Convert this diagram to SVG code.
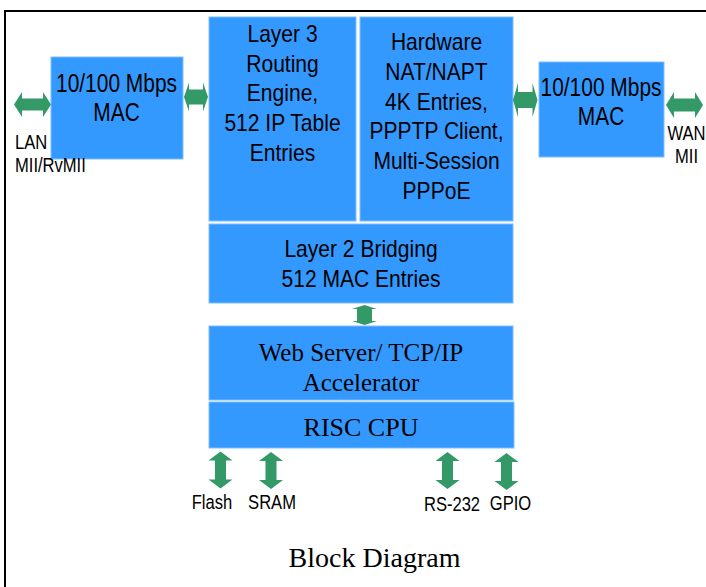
<svg xmlns="http://www.w3.org/2000/svg" xmlns:xlink="http://www.w3.org/1999/xlink" width="706" height="587" viewBox="0 0 706 587">
  <style>
    .box { fill: #3399ff; stroke: #7fbfff; stroke-width: 1; }
    .arrow { fill: #339966; }
    .sans { font-family: "Liberation Sans", Arial, sans-serif; fill: #000; text-anchor: middle; }
    .mac { font-size: 26px; }
    .lyr { font-size: 23px; }
    .lbl { font-size: 19.5px; }
    .serif { font-family: "Liberation Serif", "Times New Roman", serif; fill: #000; text-anchor: middle; }
  </style>
  <defs>
    <path id="varrow" d="M0 -18.5 L12 -9.5 L5.5 -9.5 L5.5 9.5 L12 9.5 L0 18.5 L-12 9.5 L-5.5 9.5 L-5.5 -9.5 L-12 -9.5 Z"/>
  </defs>
  <rect x="0" y="0" width="706" height="587" fill="#fff"/>
  <rect x="5" y="11" width="800" height="700" fill="none" stroke="#000" stroke-width="2"/>

  <g id="mac-lan">
    <rect class="box" x="51" y="57" width="132" height="102"/>
    <g transform="translate(116.5 0) scale(0.805 1)">
      <text class="sans mac" x="0" y="92">10/100 Mbps</text>
      <text class="sans mac" x="0" y="121">MAC</text>
    </g>
  </g>

  <g id="layer3">
    <rect class="box" x="209" y="17" width="147" height="204"/>
    <g transform="translate(282.5 0) scale(0.915 1)">
      <text class="sans lyr" x="0" y="42">Layer 3</text>
      <text class="sans lyr" x="0" y="71.7">Routing</text>
      <text class="sans lyr" x="0" y="101.4">Engine,</text>
      <text class="sans lyr" x="0" y="131.1">512 IP Table</text>
      <text class="sans lyr" x="0" y="160.8">Entries</text>
    </g>
  </g>

  <g id="nat">
    <rect class="box" x="360" y="17" width="153" height="204"/>
    <g transform="translate(436.5 0) scale(0.915 1)">
      <text class="sans lyr" x="0" y="50">Hardware</text>
      <text class="sans lyr" x="0" y="79.8">NAT/NAPT</text>
      <text class="sans lyr" x="0" y="109.6">4K Entries,</text>
      <text class="sans lyr" x="0" y="139.4">PPPTP Client,</text>
      <text class="sans lyr" x="0" y="169.2">Multi-Session</text>
      <text class="sans lyr" x="0" y="199">PPPoE</text>
    </g>
  </g>

  <g id="mac-wan">
    <rect class="box" x="539" y="62" width="125" height="95"/>
    <g transform="translate(601 0) scale(0.805 1)">
      <text class="sans mac" x="0" y="96">10/100 Mbps</text>
      <text class="sans mac" x="0" y="125">MAC</text>
    </g>
  </g>

  <g id="layer2">
    <rect class="box" x="209" y="224" width="304" height="79"/>
    <g transform="translate(361 0) scale(0.915 1)">
      <text class="sans lyr" x="0" y="257.3">Layer 2 Bridging</text>
      <text class="sans lyr" x="0" y="287.3">512 MAC Entries</text>
    </g>
  </g>

  <g id="webserver">
    <rect class="box" x="209" y="326" width="304" height="74"/>
    <text class="serif" x="361" y="361" font-size="25">Web Server/ TCP/IP</text>
    <text class="serif" x="361" y="391" font-size="25">Accelerator</text>
  </g>

  <g id="cpu">
    <rect class="box" x="209" y="402" width="305" height="46"/>
    <text class="serif" x="361" y="436" font-size="26">RISC CPU</text>
  </g>

  <g id="labels">
    <g transform="translate(15 0) scale(0.85 1)">
      <text class="sans lbl" x="0" y="149" style="text-anchor:start">LAN</text>
      <text class="sans lbl" x="0" y="172" style="text-anchor:start">MII/RvMII</text>
    </g>
    <g transform="translate(686.5 0) scale(0.85 1)">
      <text class="sans lbl" x="0" y="140">WAN</text>
      <text class="sans lbl" x="0" y="163.5">MII</text>
    </g>
    <g transform="translate(212 0) scale(0.85 1)"><text class="sans lbl" x="0" y="509">Flash</text></g>
    <g transform="translate(272 0) scale(0.85 1)"><text class="sans lbl" x="0" y="509">SRAM</text></g>
    <g transform="translate(452 0) scale(0.85 1)"><text class="sans lbl" x="0" y="511">RS-232</text></g>
    <g transform="translate(510.5 0) scale(0.85 1)"><text class="sans lbl" x="0" y="510">GPIO</text></g>
    <text class="serif" x="374.5" y="567" font-size="28">Block Diagram</text>
  </g>

  <g id="connectors" class="arrow">
    <path d="M14 104.5 L22 92 L22 98.5 L43 98.5 L43 92 L51 104.5 L43 117 L43 110.5 L22 110.5 L22 117 Z"/>
    <path d="M184 97 L189 82.5 L189 89.5 L203 89.5 L203 82.5 L208 97 L203 111.5 L203 104.5 L189 104.5 L189 111.5 Z"/>
    <path d="M513 100 L518 83 L518 92 L532.5 92 L532.5 83 L537.5 100 L532.5 117 L532.5 108 L518 108 L518 117 Z"/>
    <path d="M666 105 L674 92 L674 98.5 L695 98.5 L695 92 L703 105 L695 118 L695 111.5 L674 111.5 L674 118 Z"/>
    <path d="M364.5 305 L377 309 L372 309 L372 321 L377 321 L364.5 325 L352 321 L357 321 L357 309 L352 309 Z"/>
    <use xlink:href="#varrow" href="#varrow" x="220.5" y="470"/>
    <use xlink:href="#varrow" href="#varrow" x="271" y="470.5"/>
    <use xlink:href="#varrow" href="#varrow" x="447.5" y="470.5"/>
    <use xlink:href="#varrow" href="#varrow" x="506.5" y="471.5"/>
  </g>
</svg>
